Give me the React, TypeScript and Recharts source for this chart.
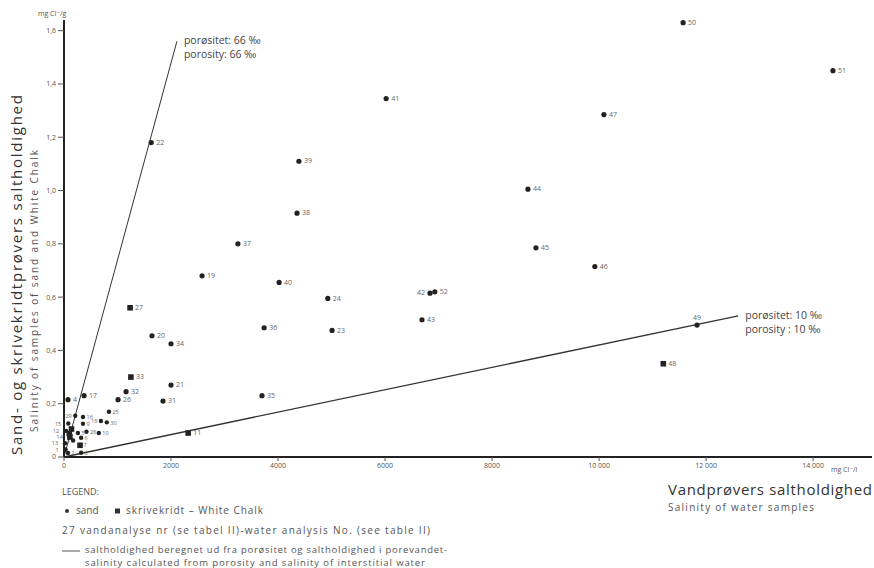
import { ScatterChart, Scatter, XAxis, YAxis, ReferenceLine, ReferenceDot } from "recharts";

// sand samples: water analysis no., water salinity (mg Cl-/l), sample salinity (mg Cl-/g)
const sand = [
  { nr: 50, x: 11570, y: 1.63 },
  { nr: 51, x: 14370, y: 1.45 },
  { nr: 41, x: 6020, y: 1.345 },
  { nr: 47, x: 10090, y: 1.285 },
  { nr: 22, x: 1630, y: 1.18 },
  { nr: 39, x: 4390, y: 1.11 },
  { nr: 44, x: 8670, y: 1.005 },
  { nr: 38, x: 4355, y: 0.915 },
  { nr: 37, x: 3250, y: 0.8 },
  { nr: 45, x: 8820, y: 0.785 },
  { nr: 46, x: 9920, y: 0.715 },
  { nr: 19, x: 2580, y: 0.68 },
  { nr: 40, x: 4020, y: 0.655 },
  { nr: 24, x: 4930, y: 0.595 },
  { nr: 42, x: 6840, y: 0.615 },
  { nr: 52, x: 6930, y: 0.62 },
  { nr: 43, x: 6690, y: 0.515 },
  { nr: 23, x: 5010, y: 0.475 },
  { nr: 36, x: 3740, y: 0.485 },
  { nr: 49, x: 11830, y: 0.495 },
  { nr: 20, x: 1645, y: 0.455 },
  { nr: 34, x: 2000, y: 0.425 },
  { nr: 21, x: 2000, y: 0.27 },
  { nr: 32, x: 1160, y: 0.245 },
  { nr: 26, x: 1010, y: 0.215 },
  { nr: 31, x: 1850, y: 0.21 },
  { nr: 35, x: 3700, y: 0.23 },
  { nr: 4, x: 75, y: 0.215 },
  { nr: 17, x: 375, y: 0.23 },
  { nr: 29, x: 210, y: 0.155 },
  { nr: 16, x: 355, y: 0.15 },
  { nr: 18, x: 690, y: 0.135 },
  { nr: 25, x: 840, y: 0.17 },
  { nr: 30, x: 800, y: 0.13 },
  { nr: 9, x: 355, y: 0.125 },
  { nr: 5, x: 260, y: 0.09 },
  { nr: 28, x: 420, y: 0.095 },
  { nr: 10, x: 650, y: 0.09 },
  { nr: 6, x: 320, y: 0.072 },
  { nr: 3, x: 170, y: 0.062 },
  { nr: 8, x: 320, y: 0.016 },
  { nr: 2, x: 75, y: 0.015 },
  { nr: 1, x: 30, y: 0.028 },
  { nr: 13, x: 20, y: 0.052 },
  { nr: 15, x: 80, y: 0.126 },
  { nr: 12, x: 40, y: 0.098 },
];

// white chalk samples
const chalk = [
  { nr: 27, x: 1235, y: 0.56 },
  { nr: 33, x: 1250, y: 0.3 },
  { nr: 48, x: 11200, y: 0.35 },
  { nr: 11, x: 2320, y: 0.09 },
  { nr: 7, x: 300, y: 0.044 },
  { nr: 14, x: 110, y: 0.075 },
  { nr: null, x: 140, y: 0.105 },
  { nr: null, x: 100, y: 0.088 },
];

const xTicks = [0, 2000, 4000, 6000, 8000, 10000, 12000, 14000];
const yTicks = [0, 0.2, 0.4, 0.6, 0.8, 1.0, 1.2, 1.4, 1.6];

const line66 = [{ x: 0, y: 0 }, { x: 2110, y: 1.56 }];
const line10 = [{ x: 0, y: 0 }, { x: 12600, y: 0.53 }];

const leftLabels = [42, 18, 29, 3];
// labels set to the left of the y axis
const axisLabels = [15, 12, 14, 13, 1];
const topLabels = [49];

const font = "'Open Sans', 'DejaVu Sans', sans-serif";

function Marker(props: any) {
  const { cx, cy, payload, square } = props;
  const nr = payload.nr;
  const small = payload.x < 1000 && payload.y < 0.2;
  let label = null;
  if (nr != null) {
    let tx = cx + (small ? 3.5 : 5);
    let ty = cy + 2.2;
    let anchor = "start";
    if (leftLabels.includes(nr)) {
      tx = cx - (small ? 3.5 : 5);
      anchor = "end";
    }
    if (axisLabels.includes(nr)) {
      tx = cx - 7;
      anchor = "end";
    }
    if (topLabels.includes(nr)) {
      tx = cx;
      ty = cy - 5;
      anchor = "middle";
    }
    label = (
      <text x={tx} y={ty} fontSize={small ? 5.5 : 7} fill="#666" textAnchor={anchor} fontFamily={font}>
        {nr}
      </text>
    );
  }
  return (
    <g>
      {square ? (
        <rect x={cx - 2.8} y={cy - 2.8} width={5.6} height={5.6} fill="#222" />
      ) : (
        <circle cx={cx} cy={cy} r={small ? 2.2 : 2.6} fill="#222" />
      )}
      {label}
    </g>
  );
}

function LineLabel(props: any) {
  const { cx, cy, lines } = props;
  return (
    <g>
      <text x={cx + 7} y={cy + 3} fontSize={10.5} fill="#444" fontFamily={font}>
        {lines[0]}
      </text>
      <text x={cx + 7} y={cy + 17} fontSize={10.5} fill="#444" fontFamily={font}>
        {lines[1]}
      </text>
    </g>
  );
}

const fmtX = (v: number) => (v >= 10000 ? `${Math.floor(v / 1000)} 000` : String(v));
const fmtY = (v: number) => (v === 0 ? "0" : v.toFixed(1).replace(".", ","));

export default function App() {
  return (
    <div style={{ position: "absolute", left: 0, top: 0, width: 874, height: 568, background: "#fff" }}>
      <ScatterChart width={874} height={568} margin={{ top: 20, right: 2, bottom: 91, left: 24 }}>
        <XAxis
          type="number"
          dataKey="x"
          domain={[0, 15100]}
          ticks={xTicks}
          tickFormatter={fmtX}
          height={20}
          tickSize={4}
          axisLine={{ stroke: "#222", strokeWidth: 2 }}
          tickLine={{ stroke: "#555" }}
          tick={{ fontSize: 7, fill: "#555", fontFamily: font }}
        />
        <YAxis
          type="number"
          dataKey="y"
          domain={[0, 1.64]}
          ticks={yTicks}
          tickFormatter={fmtY}
          width={40}
          tickSize={6}
          axisLine={{ stroke: "#222", strokeWidth: 2 }}
          tickLine={{ stroke: "#555" }}
          tick={{ fontSize: 7, fill: "#555", fontFamily: font }}
        />
        <ReferenceLine segment={line66} stroke="#333" strokeWidth={1} />
        <ReferenceLine segment={line10} stroke="#333" strokeWidth={1.3} />
        <Scatter data={sand} isAnimationActive={false} shape={(p: any) => <Marker {...p} square={false} />} />
        <Scatter data={chalk} isAnimationActive={false} shape={(p: any) => <Marker {...p} square={true} />} />
        <ReferenceDot
          x={line66[1].x}
          y={line66[1].y}
          r={0}
          shape={(p: any) => <LineLabel {...p} lines={["porøsitet: 66 ‰", "porosity:  66 ‰"]} />}
        />
        <ReferenceDot
          x={line10[1].x}
          y={line10[1].y}
          r={0}
          shape={(p: any) => <LineLabel {...p} lines={["porøsitet: 10 ‰", "porosity : 10 ‰"]} />}
        />
      </ScatterChart>
      <svg
        width={874}
        height={568}
        style={{ position: "absolute", left: 0, top: 0, pointerEvents: "none" }}
        fontFamily={font}
      >
        <text x={38} y={16} fontSize={7} fill="#555">mg Cl⁻/g</text>
        <text x={831} y={472} fontSize={7} fill="#555">mg Cl⁻/l</text>
        <text
          transform="translate(22,275) rotate(-90)"
          textAnchor="middle"
          fontSize={15}
          fill="#333"
          textLength={360}
        >
          Sand- og skrivekridtprøvers saltholdighed
        </text>
        <text
          transform="translate(38,291) rotate(-90)"
          textAnchor="middle"
          fontSize={10}
          fill="#555"
          textLength={282}
        >
          Salinity of samples of sand and White Chalk
        </text>
        <text x={668} y={495} fontSize={15} fill="#333" textLength={204}>
          Vandprøvers saltholdighed
        </text>
        <text x={668} y={511} fontSize={10} fill="#555" textLength={146}>
          Salinity of water samples
        </text>
        <text x={62} y={495} fontSize={9} fill="#555">LEGEND:</text>
        <circle cx={67} cy={511} r={2} fill="#333" />
        <text x={76} y={514} fontSize={10} fill="#555">sand</text>
        <rect x={115} y={508.5} width={5} height={5} fill="#333" />
        <text x={126} y={514} fontSize={10} fill="#555" textLength={137}>
          skrivekridt – White Chalk
        </text>
        <text x={62} y={534} fontSize={10} fill="#555" textLength={368}>
          27  vandanalyse nr (se tabel II)-water analysis No. (see table II)
        </text>
        <line x1={62} y1={551} x2={80} y2={551} stroke="#555" strokeWidth={1} />
        <text x={85} y={553} fontSize={9.5} fill="#555" textLength={362}>
          saltholdighed beregnet ud fra porøsitet og saltholdighed i porevandet-
        </text>
        <text x={85} y={566} fontSize={9.5} fill="#555" textLength={340}>
          salinity calculated from porosity and salinity of interstitial water
        </text>
      </svg>
    </div>
  );
}
